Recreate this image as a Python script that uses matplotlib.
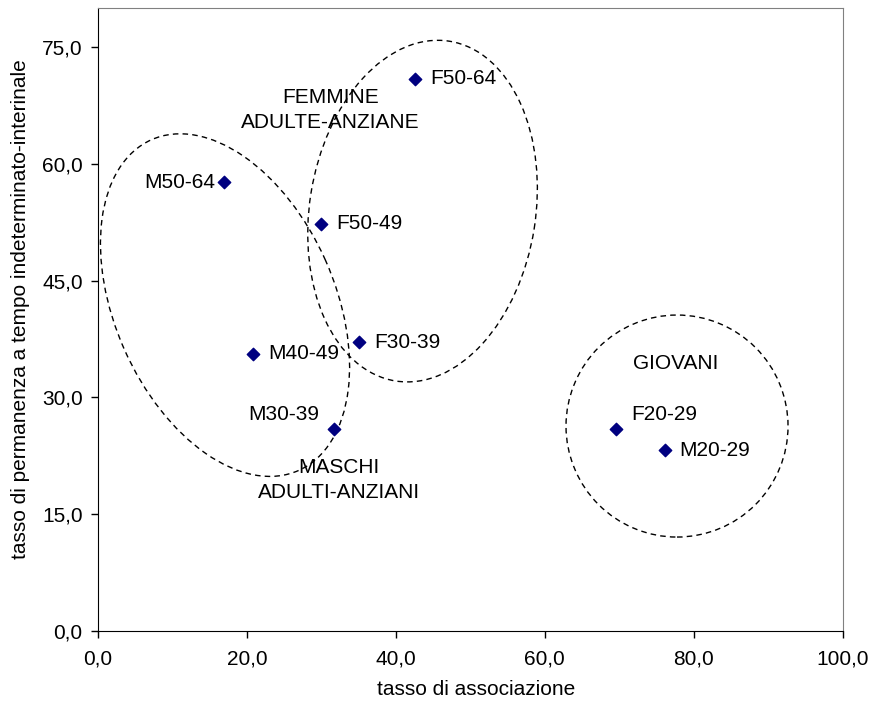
import matplotlib
matplotlib.use("Agg")
import matplotlib.pyplot as plt
import matplotlib.transforms as mtransforms
from matplotlib.patches import Ellipse
from matplotlib.ticker import FuncFormatter

plt.rcParams['font.family'] = ['Liberation Sans', 'DejaVu Sans']

# dati
labels = ["F50-64", "M50-64", "F50-49", "F30-39", "M40-49", "M30-39", "F20-29", "M20-29"]
assoc = [42.6, 16.9, 30.0, 35.1, 20.8, 31.7, 69.6, 76.1]
perman = [70.9, 57.6, 52.3, 37.1, 35.6, 25.9, 25.9, 23.2]
# offset etichette in pixel (dx, dy, allineamento)
lab_off = [(15, 0, "left"), (-9, 0, "right"), (15, 0, "left"), (15, 0, "left"),
           (15, 0, "left"), (-15, 15, "right"), (15, 15, "left"), (15, 0, "left")]

fig = plt.figure(figsize=(8.72, 7.02), dpi=100)
ax = fig.add_axes([0.1124, 0.1011, 0.8538, 0.8875])

ax.scatter(assoc, perman, marker="D", s=40, color="#000080", zorder=3)
for lab, x, y, (dx, dy, ha) in zip(labels, assoc, perman, lab_off):
    ax.annotate(lab, (x, y), xytext=(dx, dy), textcoords="offset pixels",
                ha=ha, va="center", fontsize=15)

ax.set_xlim(0, 100)
ax.set_ylim(0, 80)
ax.set_xticks([0, 20, 40, 60, 80, 100])
ax.set_yticks([0, 15, 30, 45, 60, 75])
fmt = FuncFormatter(lambda v, p: ("%.1f" % v).replace(".", ","))
ax.xaxis.set_major_formatter(fmt)
ax.yaxis.set_major_formatter(fmt)
ax.tick_params(direction="out", length=5, width=1, labelsize=15)
ax.tick_params(axis="x", pad=8)
ax.tick_params(axis="y", pad=6)

ax.spines["top"].set_color("#808080")
ax.spines["right"].set_color("#808080")

ax.set_xlabel("tasso di associazione", fontsize=15)
ax.set_ylabel("tasso di permanenza a tempo indeterminato-interinale", fontsize=15)
ax.yaxis.set_label_coords(-0.092, 0.517)
ax.xaxis.set_label_coords(0.508, -0.079)

# gruppi: centro (dati), semiassi (pixel), angolo
gruppi = [((17.06, 41.85), 181, 110, 114),
          ((43.59, 53.92), 172, 113, 81),
          ((77.77, 26.32), 111, 111, 0)]
for (cx, cy), a, b, ang in gruppi:
    tr = fig.dpi_scale_trans + mtransforms.ScaledTranslation(cx, cy, ax.transData)
    e = Ellipse((0, 0), 2 * a / 100, 2 * b / 100, angle=ang, transform=tr,
                fill=False, edgecolor="black", linewidth=1, linestyle=(0, (4, 3)))
    ax.add_patch(e)

ax.text(31.2, 66.9, "FEMMINE\nADULTE-ANZIANE", ha="center", va="center",
        fontsize=15, linespacing=1.45)
ax.text(32.4, 19.4, "MASCHI\nADULTI-ANZIANI", ha="center", va="center",
        fontsize=15, linespacing=1.45)
ax.text(77.6, 34.3, "GIOVANI", ha="center", va="center", fontsize=15)

fig.savefig("out.png", dpi=100)
